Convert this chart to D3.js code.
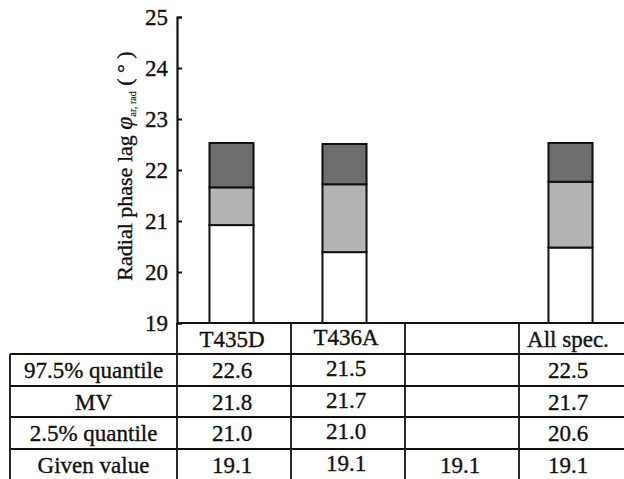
<!DOCTYPE html>
<html>
<head>
<meta charset="utf-8">
<script src="https://cdn.jsdelivr.net/npm/d3@7"></script>
<style>
  body { margin: 0; background: #fff; }
  text { font-family: "Liberation Serif", "DejaVu Serif", serif; fill: #111; stroke: #111; stroke-width: 0.35px; }
</style>
</head>
<body>
<div id="viz"></div>
<script>
'use strict';

const width = 624;
const height = 479;

// data
const categories = ["T435D", "T436A", "", "All spec."];
const lowerEdge = [20.92, 20.39, null, 20.48];   // top of white part
const middleEdge = [21.66, 21.72, null, 21.77];  // top of light grey part
const upperEdge = [22.53, 22.51, null, 22.53];   // top of dark grey part

const rowLabels = ["97.5% quantile", "MV", "2.5% quantile", "Given value"];
const q975 = ["22.6", "21.5", "", "22.5"];
const meanValue = ["21.8", "21.7", "", "21.7"];
const q025 = ["21.0", "21.0", "", "20.6"];
const givenValue = ["19.1", "19.1", "19.1", "19.1"];
const yTicks = [19, 20, 21, 22, 23, 24, 25];

const svg = d3.select("#viz")
    .append("svg")
    .attr("width", width)
    .attr("height", height);

const axisX = 177;
const baseY = 323;

let y = d3.scaleLinear()
    .domain([19, 25])
    .range([baseY, 17]);

// table columns
let col = d3.scaleBand()
    .domain(categories)
    .range([axisX, axisX + 4 * 114]);

// bars sit a little left of the column centres
let barX = d3.scaleBand()
    .domain(categories)
    .range([axisX - 2, axisX + 450])
    .paddingInner(0.61)
    .paddingOuter(0.305);

// stacked bars
const bars = svg.append("g");
categories.forEach((c, i) => {
    if (upperEdge[i] == null) return;
    const parts = [
        { from: 19, to: lowerEdge[i], fill: "#ffffff" },
        { from: lowerEdge[i], to: middleEdge[i], fill: "#b3b3b3" },
        { from: middleEdge[i], to: upperEdge[i], fill: "#6e6e6e" }
    ];
    bars.selectAll(null)
        .data(parts)
        .enter()
        .append("rect")
        .attr("x", barX(c))
        .attr("width", barX.bandwidth())
        .attr("y", d => y(d.to))
        .attr("height", d => y(d.from) - y(d.to))
        .attr("fill", d => d.fill)
        .attr("stroke", "#111")
        .attr("stroke-width", 2);
});

// y axis
const yAxis = svg.append("g")
    .attr("transform", `translate(${axisX},0)`)
    .call(d3.axisLeft(y).tickValues(yTicks).tickFormat(d3.format("d"))
        .tickSize(-5).tickPadding(9));
yAxis.select(".domain").attr("stroke", "#111").attr("stroke-width", 2.2);
yAxis.selectAll(".tick line").attr("stroke", "#111").attr("stroke-width", 2);
yAxis.selectAll(".tick text")
    .attr("font-size", 23)
    .attr("fill", "#111");

// axis title
const title = svg.append("text")
    .attr("transform", "translate(132,166) rotate(-90)")
    .attr("text-anchor", "middle")
    .attr("font-size", 22);
title.append("tspan").text("Radial phase lag ");
title.append("tspan").attr("font-style", "italic").attr("font-size", 24).text("φ");
title.append("tspan").attr("font-size", 10).attr("dy", 4).attr("stroke-width", 0.15).text("ar, rad");
title.append("tspan").attr("dy", -4).text(" ( ° )");

// table
const rowY = [baseY, 354, 386, 417, 449, 479];
const table = svg.append("g")
    .attr("stroke", "#111")
    .attr("stroke-width", 1.8);

table.append("line")
    .attr("x1", axisX).attr("x2", width)
    .attr("y1", rowY[0]).attr("y2", rowY[0]);
rowY.slice(1, 5).forEach(ry => {
    table.append("line")
        .attr("x1", 10).attr("x2", width)
        .attr("y1", ry).attr("y2", ry);
});
table.append("line")
    .attr("x1", 10).attr("x2", 10)
    .attr("y1", rowY[1]).attr("y2", height);
table.append("line")
    .attr("x1", axisX).attr("x2", axisX)
    .attr("y1", baseY).attr("y2", height);
categories.slice(1).forEach(c => {
    table.append("line")
        .attr("x1", col(c)).attr("x2", col(c))
        .attr("y1", rowY[0]).attr("y2", height);
});

const cells = svg.append("g")
    .attr("font-size", 23)
    .attr("text-anchor", "middle");

categories.forEach((c, i) => {
    cells.append("text")
        .attr("x", col(c) + col.bandwidth() / 2 + (c === "All spec." ? -8 : -2))
        .attr("y", rowY[0] + (i === 1 ? 22 : 24))
        .text(c);
});

const rows = [q975, meanValue, q025, givenValue];
rows.forEach((vals, r) => {
    cells.append("text")
        .attr("x", (10 + axisX) / 2)
        .attr("y", rowY[r + 1] + 24)
        .text(rowLabels[r]);
    vals.forEach((v, i) => {
        cells.append("text")
            .attr("x", col(categories[i]) + col.bandwidth() / 2 - (i === 3 ? 8 : 2))
            .attr("y", rowY[r + 1] + (i === 1 ? 22 : 24))
            .text(v);
    });
});
</script>
</body>
</html>
